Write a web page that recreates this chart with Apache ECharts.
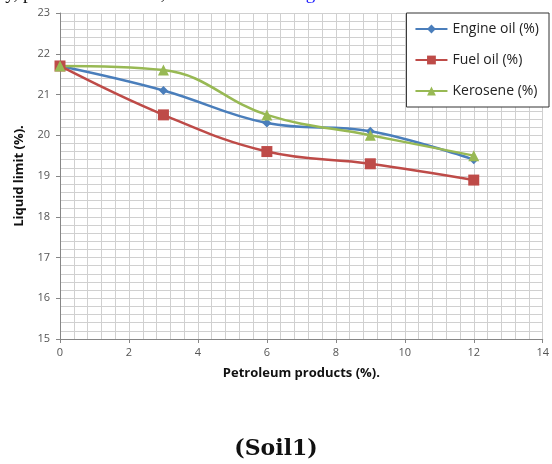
<!DOCTYPE html>
<html><head><meta charset="utf-8">
<script src="https://cdn.jsdelivr.net/npm/echarts@6/dist/echarts.min.js"></script>
<style>html,body{margin:0;padding:0;background:#fff}#c{width:552px;height:464px}</style>
</head><body><div id="c"></div>
<script>
const xValues = [0, 3, 6, 9, 12];
const engineOil = [21.7, 21.1, 20.3, 20.1, 19.4];
const fuelOil = [21.7, 20.5, 19.6, 19.3, 18.9];
const kerosene = [21.7, 21.6, 20.5, 20.0, 19.5];
const seriesNames = ['Engine oil (%)', 'Fuel oil (%)', 'Kerosene (%)'];
const xTicks = [0, 2, 4, 6, 8, 10, 12, 14];
const yTicks = [15, 16, 17, 18, 19, 20, 21, 22, 23];

const pair = (ys) => xValues.map((x, i) => [x, ys[i]]);
const colors = ['#4A7EBB', '#BE4B48', '#98B954'];
const symbols = ['diamond', 'rect', 'triangle'];
const sizes = [9, 11, 11];
const chart = echarts.init(document.getElementById('c'));
const gridC = '#d0d0d0';
chart.setOption({
  animation: false,
  graphic: [
    {type: 'text', left: 'center', top: 438, style: {text: '(Soil1)', font: 'bold 22px "DejaVu Serif", serif', fill: '#111'}},
    {type: 'text', left: 0, top: -15, style: {text: 'ly, petroleum content, as shown in ', font: '19px "Liberation Serif", serif', fill: '#111'}},
    {type: 'text', left: 290, top: -15, style: {text: 'Fig. 8.', font: '19px "Liberation Serif", serif', fill: '#1a1aff'}}
  ],
  legend: {
    orient: 'vertical', right: 3, top: 13,
    backgroundColor: '#fff', borderColor: '#333', borderWidth: 1, borderRadius: 0,
    padding: [9, 10, 9, 8], itemGap: 17, itemWidth: 32, itemHeight: 11,
    textStyle: {fontFamily: '"Open Sans", sans-serif', fontSize: 14, color: '#222'},
    data: seriesNames.map((n, i) => ({name: n, itemStyle: {color: colors[i]}}))
  },
  grid: {left: 60, right: 6, top: 13, bottom: 125, containLabel: false},
  xAxis: {
    type: 'value', min: 0, max: 14, interval: 2,
    name: 'Petroleum products (%).', nameLocation: 'middle', nameGap: 28,
    nameTextStyle: {fontFamily: '"Open Sans", sans-serif', fontWeight: 'bold', fontSize: 13, color: '#111'},
    axisLine: {show: true, lineStyle: {color: '#868686'}},
    axisTick: {show: true, length: 4, lineStyle: {color: '#868686'}},
    minorTick: {show: false, splitNumber: 5},
    axisLabel: {fontFamily: '"Open Sans", sans-serif', fontSize: 11, color: '#555', margin: 8},
    splitLine: {show: true, lineStyle: {color: gridC}},
    minorSplitLine: {show: true, lineStyle: {color: gridC}}
  },
  yAxis: {
    type: 'value', min: 15, max: 23, interval: 1,
    name: 'Liquid limit (%).', nameLocation: 'middle', nameGap: 34,
    nameTextStyle: {fontFamily: '"Open Sans", sans-serif', fontWeight: 'bold', fontSize: 13, color: '#111'},
    axisLine: {show: true, lineStyle: {color: '#868686'}},
    axisTick: {show: true, length: 4, lineStyle: {color: '#868686'}},
    minorTick: {show: false, splitNumber: 5},
    axisLabel: {fontFamily: '"Open Sans", sans-serif', fontSize: 11, color: '#555', margin: 10},
    splitLine: {show: true, lineStyle: {color: gridC}},
    minorSplitLine: {show: true, lineStyle: {color: gridC}}
  },
  series: [engineOil, fuelOil, kerosene].map((d, i) => ({
    name: seriesNames[i], type: 'line', data: pair(d), smooth: 0.4,
    symbol: symbols[i], symbolSize: sizes[i], showSymbol: true,
    lineStyle: {color: colors[i], width: 2.5},
    itemStyle: {color: colors[i]}
  }))
});
</script></body></html>
